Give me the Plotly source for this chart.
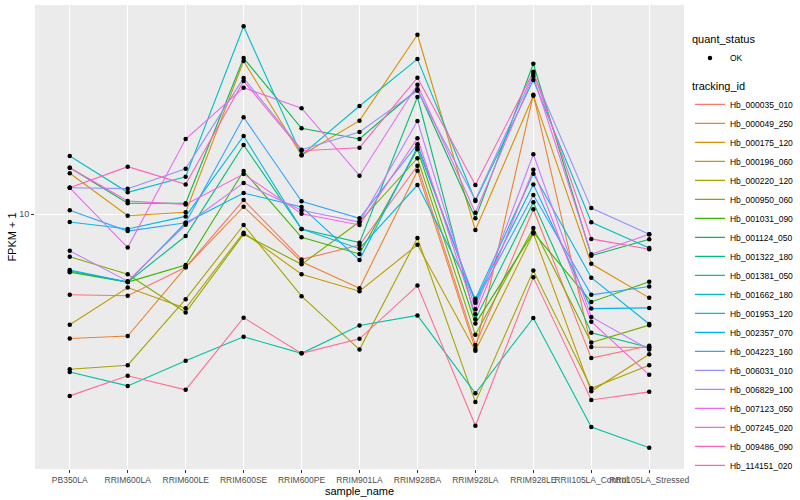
import plotly.graph_objects as go

samples = ["PB350LA", "RRIM600LA", "RRIM600LE", "RRIM600SE", "RRIM600PE", "RRIM901LA",
           "RRIM928BA", "RRIM928LA", "RRIM928LE", "RRII105LA_Control", "RRII105LA_Stressed"]

tracking_ids = ["Hb_000035_010", "Hb_000049_250", "Hb_000175_120", "Hb_000196_060",
                "Hb_000220_120", "Hb_000950_060", "Hb_001031_090", "Hb_001124_050",
                "Hb_001322_180", "Hb_001381_050", "Hb_001662_180", "Hb_001953_120",
                "Hb_002357_070", "Hb_004223_160", "Hb_006031_010", "Hb_006829_100",
                "Hb_007123_050", "Hb_007245_020", "Hb_009486_090", "Hb_114151_020"]

# FPKM + 1 values per gene, in sample order
hb_000035_010 = [7.13, 7.10, 8.00, 10.60, 8.27, 8.78, 12.24, 5.78, 10.20, 5.47, 5.76]
hb_000049_250 = [5.94, 6.00, 8.00, 10.31, 8.19, 7.33, 11.99, 5.68, 16.48, 5.73, 5.72]
hb_000175_120 = [11.86, 9.93, 10.07, 18.97, 12.79, 14.78, 21.18, 9.35, 16.41, 8.12, 7.04]
hb_000196_060 = [6.29, 7.35, 6.74, 9.25, 7.77, 7.24, 8.79, 5.64, 9.22, 4.76, 5.56]
hb_000220_120 = [5.22, 5.31, 7.00, 9.55, 7.09, 5.67, 9.04, 4.55, 7.89, 4.82, 5.31]
hb_000950_060 = [8.36, 7.77, 6.62, 9.19, 8.10, 9.68, 12.63, 6.03, 9.43, 5.84, 6.28]
hb_001031_090 = [7.84, 7.52, 8.08, 11.97, 9.07, 8.46, 13.11, 6.32, 9.26, 6.92, 7.53]
hb_001124_050 = [12.14, 10.46, 10.46, 19.21, 14.32, 13.69, 16.86, 9.82, 18.76, 8.40, 9.00]
hb_001322_180 = [7.88, 7.52, 9.12, 13.35, 9.39, 8.87, 16.32, 6.44, 10.50, 6.08, 5.72]
hb_001381_050 = [5.16, 4.87, 5.41, 5.98, 5.58, 6.27, 6.54, 4.72, 6.47, 4.10, 3.76]
hb_001662_180 = [12.75, 10.95, 11.69, 21.94, 12.79, 15.72, 19.13, 10.56, 17.52, 9.66, 8.67]
hb_001953_120 = [9.67, 9.39, 9.90, 13.86, 9.39, 8.65, 11.29, 7.01, 11.84, 7.66, 6.31]
hb_002357_070 = [7.91, 7.52, 9.64, 10.92, 10.30, 8.25, 13.24, 6.95, 11.32, 6.73, 6.75]
hb_004223_160 = [10.16, 9.31, 9.64, 14.99, 10.55, 9.82, 13.39, 6.90, 10.83, 7.13, 7.38]
hb_006031_010 = [11.16, 11.12, 12.09, 17.67, 13.09, 14.10, 16.76, 10.60, 17.99, 10.25, 9.19]
hb_006829_100 = [8.57, 7.55, 9.56, 11.39, 10.16, 9.67, 14.76, 6.71, 12.84, 6.50, 5.67]
hb_007123_050 = [11.16, 8.69, 13.69, 16.97, 15.57, 11.74, 17.18, 10.05, 17.82, 8.45, 9.19]
hb_007245_020 = [12.14, 10.56, 10.41, 11.82, 10.01, 9.55, 13.73, 6.57, 12.04, 6.37, 5.10]
hb_009486_090 = [11.16, 12.19, 11.32, 17.45, 13.03, 13.20, 17.69, 11.29, 18.14, 9.01, 8.63]
hb_114151_020 = [4.67, 5.08, 4.79, 6.48, 5.58, 5.93, 7.41, 4.12, 7.67, 4.59, 4.75]

series = [hb_000035_010, hb_000049_250, hb_000175_120, hb_000196_060, hb_000220_120,
          hb_000950_060, hb_001031_090, hb_001124_050, hb_001322_180, hb_001381_050,
          hb_001662_180, hb_001953_120, hb_002357_070, hb_004223_160, hb_006031_010,
          hb_006829_100, hb_007123_050, hb_007245_020, hb_009486_090, hb_114151_020]

colors = ["#F8766D", "#EA8331", "#D89000", "#C09B00", "#A3A500", "#7CAE00", "#39B600",
          "#00BB4E", "#00BF7D", "#00C1A3", "#00BFC4", "#00BAE0", "#00B0F6", "#35A2FF",
          "#9590FF", "#C77CFF", "#E76BF3", "#FA62DB", "#FF62BC", "#FF6C91"]

FONT = "Liberation Sans"

fig = go.Figure()
for tid, vals, col in zip(tracking_ids, series, colors):
    fig.add_trace(go.Scatter(x=samples, y=vals, mode="lines", name=tid,
                             line=dict(color=col, width=1.1), legend="legend2"))

all_x = [s for vals in series for s in samples]
all_y = [v for vals in series for v in vals]
fig.add_trace(go.Scatter(x=all_x, y=all_y, mode="markers", name="OK",
                         marker=dict(color="black", size=4.5), legend="legend"))

fig.update_layout(
    width=800, height=500,
    margin=dict(l=35, r=116, t=5, b=31, autoexpand=False),
    paper_bgcolor="white", plot_bgcolor="#EBEBEB",
    font=dict(family=FONT, size=9, color="#000000"),
    showlegend=True,
    xaxis=dict(type="category", range=[-0.6, 10.6], showgrid=True, gridcolor="white",
               gridwidth=1.1, zeroline=False, ticks="outside", ticklen=3,
               tickcolor="#333333", tickangle=0,
               tickfont=dict(size=8.5, color="#4D4D4D"),
               title=dict(text="sample_name", font=dict(size=11), standoff=0),
               automargin=False),
    yaxis=dict(type="log", range=[0.5364, 1.38], tickvals=[10], ticktext=["10"],
               showgrid=True, gridcolor="white", gridwidth=1.1, zeroline=False,
               ticks="outside", ticklen=3, tickcolor="#333333",
               tickfont=dict(size=9, color="#4D4D4D"),
               title=dict(text="FPKM + 1", font=dict(size=11), standoff=0),
               automargin=False),
    legend=dict(title=dict(text="quant_status", font=dict(size=11)),
                x=1.0092, xanchor="left", y=0.948, yanchor="top",
                font=dict(size=8.5), bgcolor="rgba(0,0,0,0)"),
    legend2=dict(title=dict(text="tracking_id", font=dict(size=11)),
                 x=1.0092, xanchor="left", y=0.848, yanchor="top",
                 font=dict(size=8.5), bgcolor="rgba(0,0,0,0)", tracegroupgap=0),
)

fig.write_html("out.html", config={"displayModeBar": False},
               post_script="document.body.style.margin='0';document.body.style.overflow='hidden';")
